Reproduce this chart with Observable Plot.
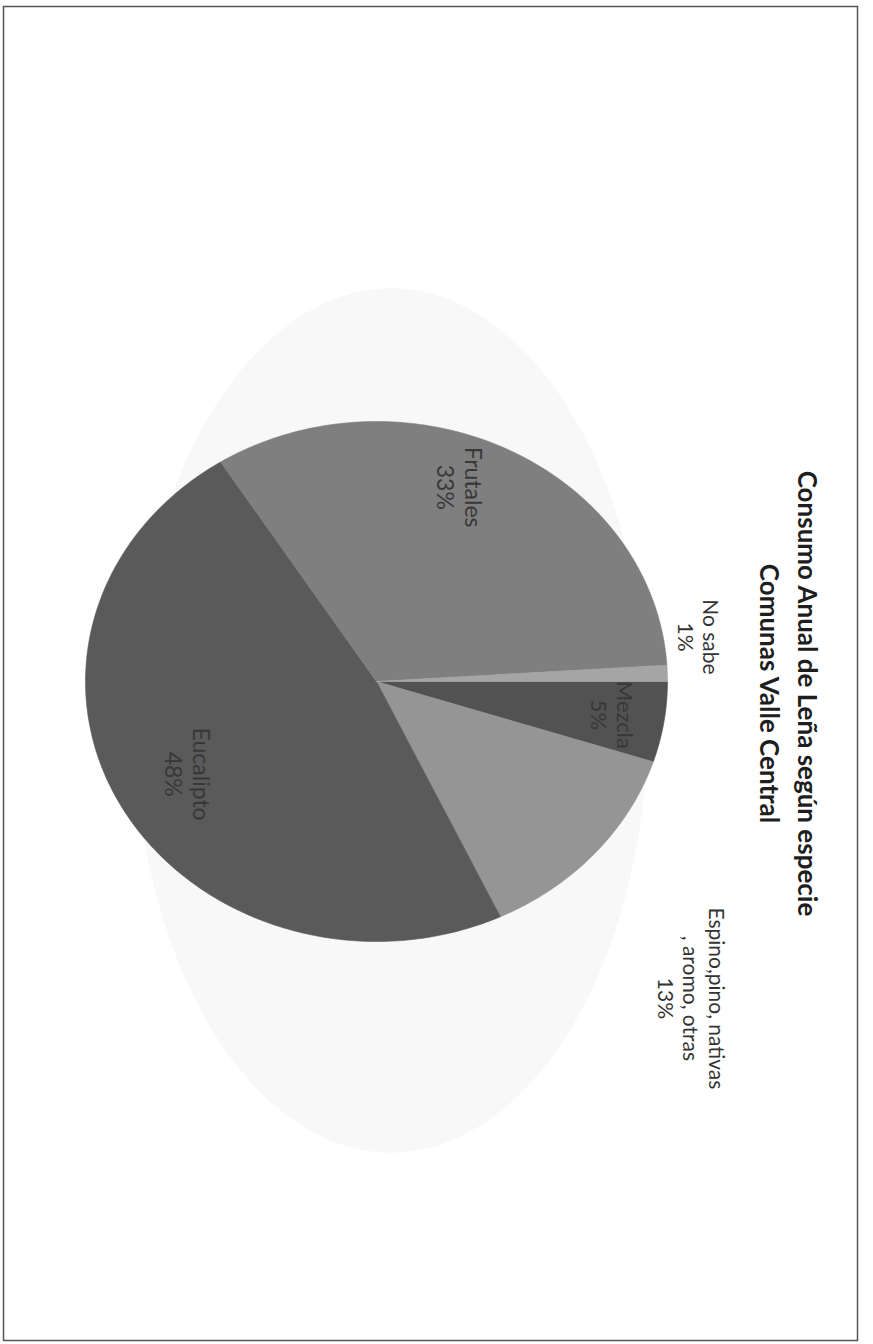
<!DOCTYPE html>
<html><head><meta charset="utf-8">
<script src="https://cdn.jsdelivr.net/npm/d3@7"></script>
<script src="https://cdn.jsdelivr.net/npm/@observablehq/plot@0.6"></script>
<style>html,body{margin:0;padding:0;background:#fff;} #chart svg{display:block;}</style>
</head><body><div id="chart"></div>
<script>
// Data (pie order, clockwise from the start of the pie)
const categories = ["Mezcla", "Espino,pino, nativas\n, aromo, otras", "Eucalipto", "Frutales", "No sabe"];
const values = [5, 13, 48, 33, 1];
const percentLabels = ["5%", "13%", "48%", "33%", "1%"];
const titleLines = ["Consumo Anual de Leña según especie", "Comunas Valle Central"];

// Styles / layout
const sliceColors = ["#525252", "#959595", "#5a5a5a", "#7f7f7f", "#a5a5a5"];
const labelColors = ["#383838", "#333333", "#383838", "#383838", "#333333"];
const labelSizes = [22, 21, 23, 23, 21];
const labelRadius = [0.82, 1.63, 0.74, 0.80, 1.12];
const labelTurn = [0, 7, 0, -6, -7]; // degrees
const W = 873, H = 1344;
const mT = 6, mR = 16, mB = 4, mL = 3;
const cx = 376, cy = 681, rx = 291, ry = 260;

const pie = d3.pie().sort(null).value(d => d.value)
  .startAngle(0).endAngle(2 * Math.PI);
const slices = pie(categories.map((c, i) => ({name: c, value: values[i], i})));

function arcPoints(a0, a1, r, withCenter) {
  const pts = withCenter ? [{x: 0, y: 0}] : [];
  const n = Math.max(2, Math.ceil((a1 - a0) / (Math.PI / 180)));
  for (let k = 0; k <= n; k++) {
    const a = a0 + (a1 - a0) * k / n;
    pts.push({x: r * Math.cos(a), y: r * Math.sin(a)});
  }
  if (withCenter) pts.push({x: 0, y: 0});
  return pts;
}

const sliceMarks = slices.map(s => Plot.line(arcPoints(s.startAngle, s.endAngle, 1, true), {
  x: "x", y: "y", fill: sliceColors[s.data.i], stroke: sliceColors[s.data.i], strokeWidth: 0.6,
  curve: "linear"
}));

// faint halo behind the pie
const halo = Plot.line(arcPoints(0, 2 * Math.PI, 1, false).map(p => ({x: p.x * 0.88 + 0.05, y: p.y * 1.66 + 0.15})), {
  x: "x", y: "y", fill: "#f8f8f8", stroke: "#f8f8f8", strokeWidth: 1
});

const labels = slices.map(s => {
  const i = s.data.i;
  const a = (s.startAngle + s.endAngle) / 2 + labelTurn[i] * Math.PI / 180;
  return {x: labelRadius[i] * Math.cos(a), y: labelRadius[i] * Math.sin(a),
          text: s.data.name + "\n" + percentLabels[i], color: labelColors[i], size: labelSizes[i]};
});

const chart = Plot.plot({
  width: W, height: H,
  marginTop: mT, marginRight: mR, marginBottom: mB, marginLeft: mL,
  x: {domain: [-(cx - mL) / rx, (W - mR - cx) / rx], axis: null},
  y: {domain: [-(cy - mT) / ry, (H - mB - cy) / ry], reverse: true, axis: null},
  style: {background: "#fff"},
  marks: [
    halo,
    ...sliceMarks,
    Plot.text(labels, {x: "x", y: "y", text: "text", fill: "color", fontSize: "size", rotate: 90,
      fontFamily: "Lato", lineHeight: 1.2, lineAnchor: "middle", textAnchor: "middle"}),
    Plot.text([titleLines.join("\n")], {text: d => d, frameAnchor: "right", dx: -66, dy: 20, rotate: 90,
      fontSize: 26, fontWeight: "bold", fontFamily: "Lato", fill: "#1e1e1e", lineHeight: 1.47,
      lineAnchor: "middle", textAnchor: "middle"}),
    Plot.frame({stroke: "#555", strokeWidth: 1.5})
  ]
});
document.getElementById("chart").append(chart);
</script>
</body></html>
